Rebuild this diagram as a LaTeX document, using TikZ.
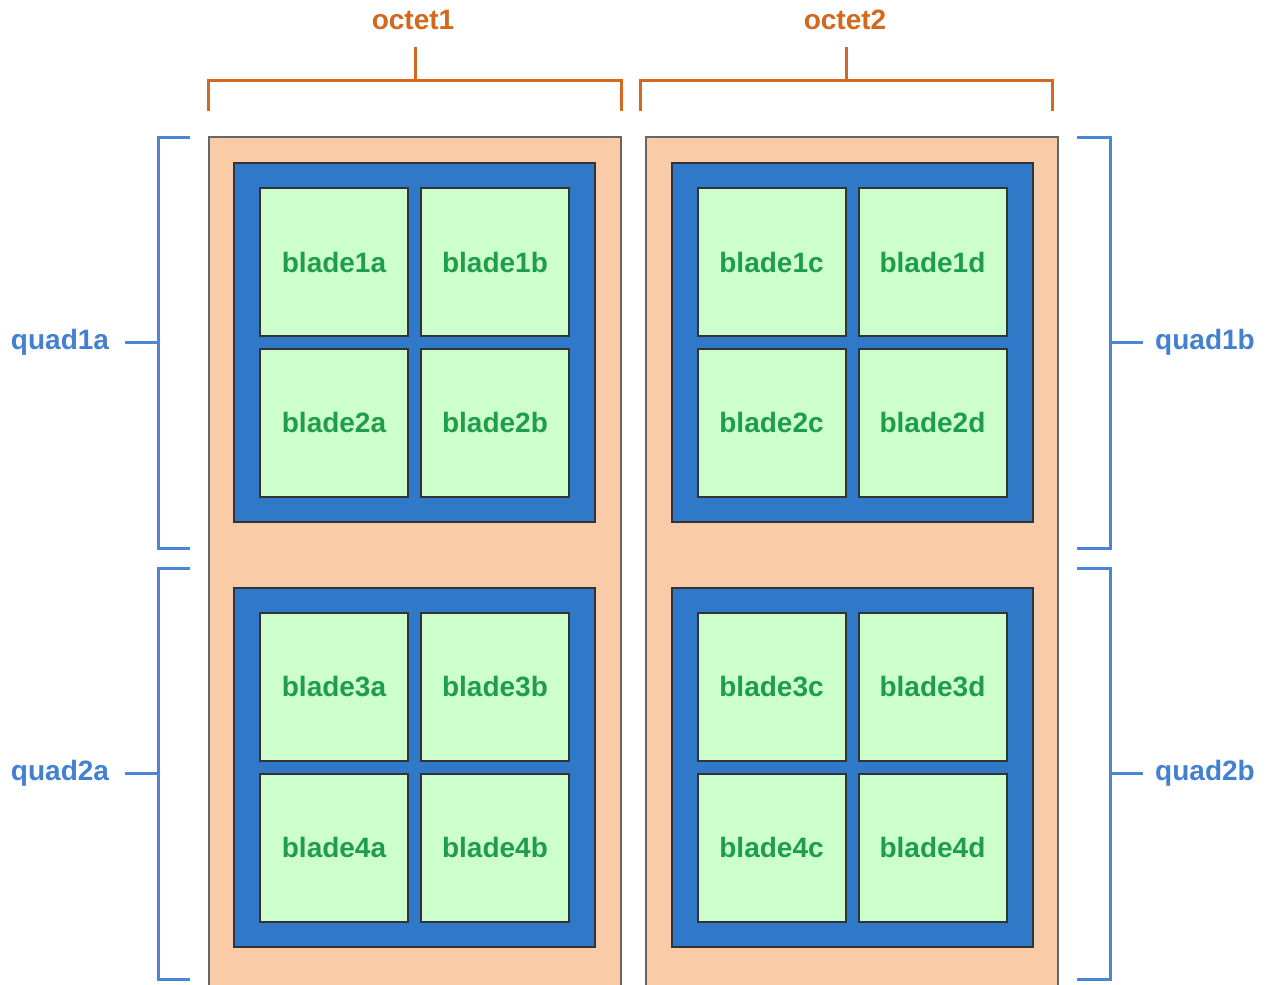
\documentclass[tikz,border=0pt]{standalone}
\usepackage{fontspec}
\setmainfont{Liberation Sans}
\usetikzlibrary{shadows}
\definecolor{peach}{RGB}{249,203,167}
\definecolor{quadblue}{RGB}{48,120,200}
\definecolor{bladegreen}{RGB}{204,255,204}
\definecolor{bladetext}{RGB}{30,158,75}
\definecolor{octorange}{RGB}{210,105,30}
\definecolor{bracketblue}{RGB}{74,134,216}
\definecolor{quadtext}{RGB}{66,128,210}
\tikzset{
  octetbox/.style={rectangle, fill=peach, draw=black!60, line width=1pt, inner sep=0pt, minimum width=206pt, minimum height=436.5pt},
  quadbox/.style={rectangle, fill=quadblue, draw=black!80, line width=1pt, inner sep=0pt, minimum width=180.5pt, minimum height=179.5pt,
    drop shadow={shadow xshift=0.6pt, shadow yshift=-0.6pt, opacity=0.35}},
  bladebox/.style={rectangle, fill=bladegreen, draw=black!80, line width=1pt, inner sep=0pt, minimum width=74pt, minimum height=74pt,
    text=bladetext, font=\bfseries\fontsize{14}{16}\selectfont,
    drop shadow={shadow xshift=0.5pt, shadow yshift=-0.6pt, opacity=0.35}},
  octbracket/.style={draw=octorange, line width=1.5pt},
  quadbracket/.style={draw=bracketblue, line width=1.5pt},
  octlabel/.style={text=octorange, font=\bfseries\fontsize{14}{16}\selectfont, inner sep=0pt},
  quadlabel/.style={text=quadtext, font=\bfseries\fontsize{14}{16}\selectfont, inner sep=0pt},
}
\begin{document}
\begin{tikzpicture}[x=0.5pt,y=-0.5pt]
\useasboundingbox (0,0) rectangle (1266,985);
\clip (0,0) rectangle (1266,985);
% octets
\node[octetbox] (oct1) at (414.5,573.5) {};
\node[octetbox] (oct2) at (852,573.5) {};
% quads
\node[quadbox] (q1a) at (414.5,342.5) {};
\node[quadbox] (q2a) at (414.5,767) {};
\node[quadbox] (q1b) at (852,342.5) {};
\node[quadbox] (q2b) at (852,767) {};
% blades
\node[bladebox] (b1a) at (334,262) {blade1a};
\node[bladebox] (b1b) at (495,262) {blade1b};
\node[bladebox] (b2a) at (334,422.5) {blade2a};
\node[bladebox] (b2b) at (495,422.5) {blade2b};
\node[bladebox] (b3a) at (334,686.5) {blade3a};
\node[bladebox] (b3b) at (495,686.5) {blade3b};
\node[bladebox] (b4a) at (334,847.5) {blade4a};
\node[bladebox] (b4b) at (495,847.5) {blade4b};
\node[bladebox] (b1c) at (771.5,262) {blade1c};
\node[bladebox] (b1d) at (932.5,262) {blade1d};
\node[bladebox] (b2c) at (771.5,422.5) {blade2c};
\node[bladebox] (b2d) at (932.5,422.5) {blade2d};
\node[bladebox] (b3c) at (771.5,686.5) {blade3c};
\node[bladebox] (b3d) at (932.5,686.5) {blade3d};
\node[bladebox] (b4c) at (771.5,847.5) {blade4c};
\node[bladebox] (b4d) at (932.5,847.5) {blade4d};
% octet brackets
\node[octlabel] (lo1) at (413,20) {octet1};
\node[octlabel] (lo2) at (845,20) {octet2};
\coordinate (o1s) at (415,47);
\coordinate (o2s) at (846,47);
\draw[octbracket] (208,111) -- (208,80) -- (621,80) -- (621,111);
\draw[octbracket] (415,80) -- (o1s);
\draw[octbracket] (640,111) -- (640,80) -- (1052,80) -- (1052,111);
\draw[octbracket] (846,80) -- (o2s);
% quad brackets
\node[quadlabel] (lq1a) at (60,342) {quad1a};
\node[quadlabel] (lq2a) at (60,773) {quad2a};
\node[quadlabel] (lq1b) at (1205,342) {quad1b};
\node[quadlabel] (lq2b) at (1205,773) {quad2b};
\draw[quadbracket] (190,137) -- (158,137) -- (158,548) -- (190,548);
\draw[quadbracket] (158,342) -- (125,342);
\draw[quadbracket] (190,568) -- (158,568) -- (158,979) -- (190,979);
\draw[quadbracket] (158,773) -- (125,773);
\draw[quadbracket] (1077,137) -- (1110,137) -- (1110,548) -- (1077,548);
\draw[quadbracket] (1110,342) -- (1143,342);
\draw[quadbracket] (1077,568) -- (1110,568) -- (1110,979) -- (1077,979);
\draw[quadbracket] (1110,773) -- (1143,773);
\end{tikzpicture}
\end{document}
